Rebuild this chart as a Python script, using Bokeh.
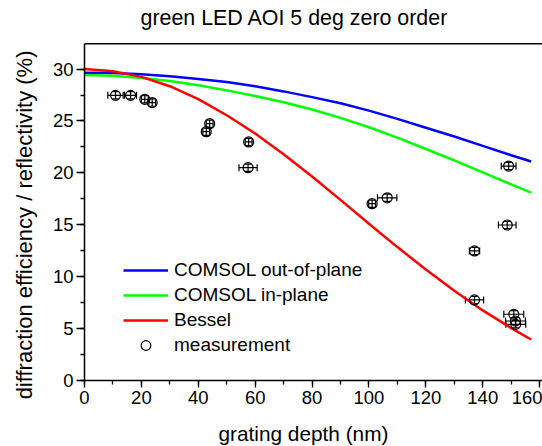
from bokeh.plotting import figure
from bokeh.models import (Range1d, Whisker, ColumnDataSource, Legend, LegendItem,
                          Title, LinearAxis, FixedTicker, TeeHead, SingleIntervalTicker, Span,
                          CustomJSTickFormatter)
from bokeh.embed import file_html
from bokeh.resources import INLINE

# ---------------- data ----------------
title_text = "green LED AOI 5 deg zero order"
x_label = "grating depth (nm)"
y_label = "diffraction efficiency / reflectivity (%)"

depth = [0, 10, 20, 30, 40, 50, 60, 70, 80, 90, 100, 110, 120, 130, 140, 150, 157]
comsol_out = [29.65, 29.62, 29.5, 29.3, 29.05, 28.75, 28.35, 27.85, 27.3, 26.7,
              26.0, 25.2, 24.35, 23.5, 22.6, 21.7, 21.1]
comsol_in = [29.43, 29.35, 29.15, 28.85, 28.45, 27.95, 27.4, 26.8, 26.1, 25.3,
             24.4, 23.4, 22.3, 21.2, 20.05, 18.9, 18.1]
bessel = [30.0, 29.8, 29.25, 28.35, 27.1, 25.55, 23.8, 21.8, 19.65, 17.4,
          15.1, 12.85, 10.7, 8.65, 6.75, 5.05, 3.95]

meas_x = [10.9, 16.2, 21.2, 23.8, 44.0, 42.8, 57.7, 57.5, 101.1, 106.4,
          149.1, 148.6, 137.1, 137.1, 150.9, 151.5, 151.6]
meas_y = [27.47, 27.47, 27.09, 26.77, 24.74, 23.97, 22.98, 20.5, 17.03, 17.6,
          20.66, 14.98, 12.48, 7.76, 6.38, 5.73, 5.41]
meas_xerr = [2.7, 2.1, 1.2, 1.2, 1.2, 1.2, 1.2, 3.2, 1.2, 3.4,
             2.6, 3.1, 1.8, 3.2, 3.5, 3.5, 3.5]
meas_yerr = [0.35, 0.35, 0.35, 0.35, 0.35, 0.35, 0.35, 0.35, 0.35, 0.35,
             0.35, 0.35, 0.35, 0.35, 0.35, 0.35, 0.35]

series_names = ["COMSOL out-of-plane", "COMSOL in-plane", "Bessel", "measurement"]

y_axis_top = 32.45   # upper end of the drawn y axis / top border

FONT = "Liberation Sans"

# ---------------- figure ----------------
p = figure(width=542, height=446, output_backend="svg", toolbar_location=None,
           x_range=Range1d(0, 161), y_range=Range1d(0, 33.62),
           min_border_left=84, min_border_right=0, min_border_top=31, min_border_bottom=66)
p.background_fill_color = "white"
p.border_fill_color = "white"
p.outline_line_color = None
p.xgrid.visible = False
p.ygrid.visible = False

xa = p.below[0]
ya = p.left[0]

p.title.text = title_text
p.title.align = "left"
p.title.offset = 56
p.title.standoff = 4
p.title.text_font = FONT
p.title.text_font_size = "21.4px"
p.title.text_font_style = "normal"
p.title.text_color = "black"

xa.ticker = SingleIntervalTicker(interval=20, num_minor_ticks=2)
ya.ticker = SingleIntervalTicker(interval=5, num_minor_ticks=2)
ya.bounds = (0, y_axis_top)
for ax in (xa, ya):
    ax.axis_line_width = 1.5
    ax.axis_line_color = "black"
    ax.major_tick_line_color = "black"
    ax.minor_tick_line_color = "black"
    ax.major_tick_line_width = 1.3
    ax.minor_tick_line_width = 1.3
    ax.major_tick_in = 0
    ax.minor_tick_in = 0
    ax.major_label_text_font = FONT
    ax.major_label_text_font_size = "18.5px"
    ax.major_label_text_color = "black"
xa.major_tick_out = 7
xa.minor_tick_out = 4
xa.major_label_standoff = 3
ya.major_tick_out = 8
ya.minor_tick_out = 4
ya.major_label_standoff = 3

# top border of the plot box
p.add_layout(Span(location=y_axis_top, dimension="width", line_color="black", line_width=1.5))


def spacer(size, at):
    # an axis with one white tick and no label or line: only reserves `size` pixels
    return LinearAxis(ticker=FixedTicker(ticks=[at], minor_ticks=[]),
                      formatter=CustomJSTickFormatter(code="return ''"),
                      axis_line_color=None, major_tick_line_color="white",
                      minor_tick_line_color=None, major_label_standoff=0,
                      major_tick_out=size, major_tick_in=0, minor_tick_out=0, minor_tick_in=0)


p.add_layout(spacer(11, 80), "below")
p.add_layout(spacer(10, 15), "left")

xt = Title(text=x_label, align="left", offset=134, text_font=FONT,
           text_font_size="20.8px", text_font_style="normal", text_color="black", standoff=4)
p.add_layout(xt, "below")
yt = Title(text=y_label, align="right", offset=19, text_font=FONT,
           text_font_size="22px", text_font_style="normal", text_color="black", standoff=6)
p.add_layout(yt, "left")

# ---------------- glyphs ----------------
r_out = p.line(depth, comsol_out, line_color="#0000FF", line_width=2.5)
r_in = p.line(depth, comsol_in, line_color="#00FF00", line_width=2.5)
r_bes = p.line(depth, bessel, line_color="#FF0000", line_width=2.5)

src = ColumnDataSource(dict(
    x=meas_x, y=meas_y,
    xl=[a - b for a, b in zip(meas_x, meas_xerr)],
    xu=[a + b for a, b in zip(meas_x, meas_xerr)],
    yl=[a - b for a, b in zip(meas_y, meas_yerr)],
    yu=[a + b for a, b in zip(meas_y, meas_yerr)],
))
wx = Whisker(source=src, base="y", lower="xl", upper="xu", dimension="width",
             line_color="black", line_width=1.2,
             lower_head=TeeHead(size=7, line_color="black", line_width=1.2),
             upper_head=TeeHead(size=7, line_color="black", line_width=1.2))
wy = Whisker(source=src, base="x", lower="yl", upper="yu", dimension="height",
             line_color="black", line_width=1.2,
             lower_head=TeeHead(size=6, line_color="black", line_width=1.2),
             upper_head=TeeHead(size=6, line_color="black", line_width=1.2))
p.add_layout(wx)
p.add_layout(wy)
r_meas = p.scatter("x", "y", source=src, marker="circle", size=10,
                   line_color="black", fill_color=None, line_width=1.2)

legend = Legend(items=[LegendItem(label=series_names[0], renderers=[r_out]),
                       LegendItem(label=series_names[1], renderers=[r_in]),
                       LegendItem(label=series_names[2], renderers=[r_bes]),
                       LegendItem(label=series_names[3], renderers=[r_meas])],
                location=(39, 23), border_line_color=None, background_fill_alpha=0,
                padding=0, margin=0, spacing=1, glyph_width=45, glyph_height=24,
                label_height=24, label_standoff=6, label_text_font=FONT,
                label_text_font_size="19px", label_text_color="black")
p.add_layout(legend, "center")

open("out.html", "w").write(file_html(p, INLINE))
